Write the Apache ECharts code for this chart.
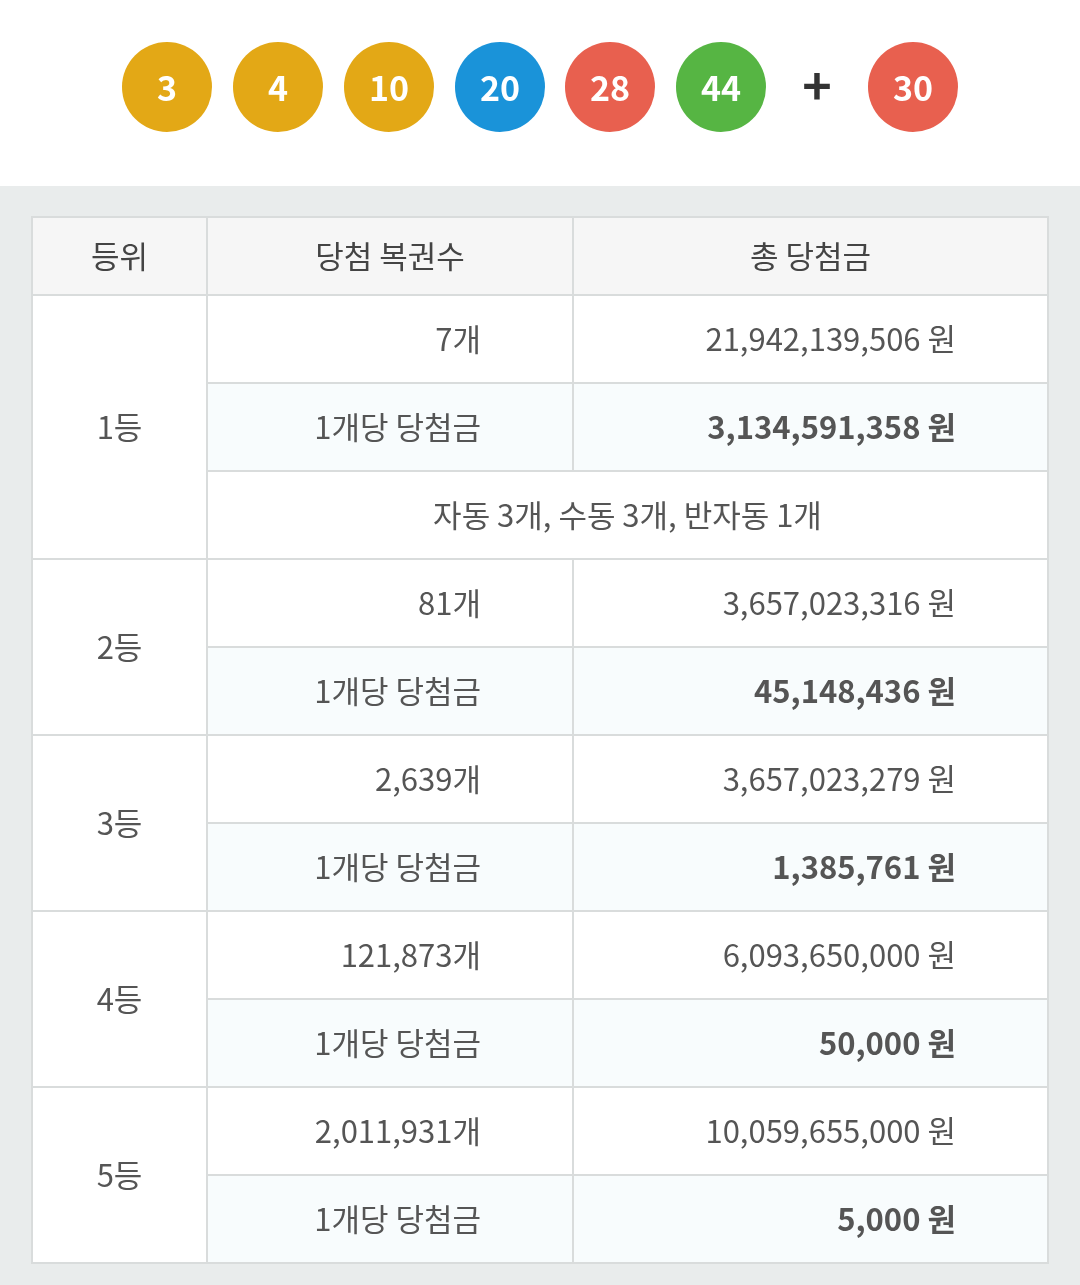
<!DOCTYPE html>
<html>
<head>
<meta charset="utf-8">
<script src="https://cdn.jsdelivr.net/npm/echarts@6/dist/echarts.min.js"></script>
<style>
  html, body { margin: 0; padding: 0; background: #fff; }
  #chart { width: 1080px; height: 1285px; }
</style>
</head>
<body>
<div id="chart"></div>
<script>
// winning numbers
const balls = [3, 4, 10, 20, 28, 44];
const bonus = 30;

// table data
const headers = ['등위', '당첨 복권수', '총 당첨금'];
const ranks = ['1등', '2등', '3등', '4등', '5등'];
const winners = ['7개', '81개', '2,639개', '121,873개', '2,011,931개'];
const totals = ['21,942,139,506 원', '3,657,023,316 원', '3,657,023,279 원', '6,093,650,000 원', '10,059,655,000 원'];
const perTicket = ['3,134,591,358 원', '45,148,436 원', '1,385,761 원', '50,000 원', '5,000 원'];
const firstNote = '자동 3개, 수동 3개, 반자동 1개';
const perLabel = '1개당 당첨금';

function ballColor(n) {
  if (n <= 10) return '#e3a816';
  if (n <= 20) return '#1a93d9';
  if (n <= 30) return '#e8604f';
  if (n <= 40) return '#888888';
  return '#56b543';
}

const FONT = '"Noto Sans CJK KR", "Noto Sans", sans-serif';
const chart = echarts.init(document.getElementById('chart'));
const g = [];

// top area
g.push({ type: 'rect', shape: { x: 0, y: 0, width: 1080, height: 186 }, style: { fill: '#fff' } });
g.push({ type: 'rect', shape: { x: 0, y: 186, width: 1080, height: 1100 }, style: { fill: '#e9ecec' } });

const ballX = [167, 278, 389, 500, 610, 721];
balls.forEach((n, i) => {
  g.push({ type: 'circle', shape: { cx: ballX[i], cy: 87, r: 45 }, style: { fill: ballColor(n) } });
  g.push({ type: 'text', x: ballX[i], y: 88, style: { text: String(n), fill: '#fff', font: 'bold 34px ' + FONT, align: 'center', verticalAlign: 'middle' } });
});
g.push({ type: 'text', x: 817, y: 86, style: { text: '+', fill: '#333', font: 'bold 50px ' + FONT, align: 'center', verticalAlign: 'middle' } });
g.push({ type: 'circle', shape: { cx: 913, cy: 87, r: 45 }, style: { fill: ballColor(bonus) } });
g.push({ type: 'text', x: 913, y: 88, style: { text: String(bonus), fill: '#fff', font: 'bold 34px ' + FONT, align: 'center', verticalAlign: 'middle' } });

// table
const X0 = 32, X1 = 207, X2 = 573, X3 = 1048;
const Y0 = 217, HH = 78, RH = 88;
const line = '#d9dcdc';
const txt = '#555';

function cell(x, y, w, h, fill) {
  g.push({ type: 'rect', shape: { x: x, y: y, width: w, height: h }, style: { fill: fill, stroke: line, lineWidth: 2 } });
}
function label(text, x, y, align, bold, color) {
  g.push({ type: 'text', x: x, y: y, style: { text: text, fill: color || txt, font: (bold ? 'bold ' : '') + '31px ' + FONT, align: align, verticalAlign: 'middle' } });
}

cell(X0, Y0, X1 - X0, HH, '#f6f6f6');
cell(X1, Y0, X2 - X1, HH, '#f6f6f6');
cell(X2, Y0, X3 - X2, HH, '#f6f6f6');
label(headers[0], (X0 + X1) / 2, Y0 + HH / 2, 'center', false, '#444');
label(headers[1], (X1 + X2) / 2, Y0 + HH / 2, 'center', false, '#444');
label(headers[2], (X2 + X3) / 2, Y0 + HH / 2, 'center', false, '#444');

let y = Y0 + HH;
ranks.forEach((r, i) => {
  const rows = i === 0 ? 3 : 2;
  cell(X0, y, X1 - X0, RH * rows, '#fff');
  label(r, (X0 + X1) / 2, y + RH * rows / 2, 'center');
  cell(X1, y, X2 - X1, RH, '#fff');
  cell(X2, y, X3 - X2, RH, '#fff');
  label(winners[i], 481, y + RH / 2, 'right');
  label(totals[i], 956, y + RH / 2, 'right');
  cell(X1, y + RH, X2 - X1, RH, '#f8fcfd');
  cell(X2, y + RH, X3 - X2, RH, '#f8fcfd');
  label(perLabel, 481, y + RH * 1.5, 'right');
  label(perTicket[i], 956, y + RH * 1.5, 'right', true);
  if (i === 0) {
    cell(X1, y + RH * 2, X3 - X1, RH, '#fff');
    label(firstNote, (X1 + X3) / 2, y + RH * 2.5, 'center');
  }
  y += RH * rows;
});

chart.setOption({ animation: false, graphic: { elements: g } });
</script>
</body>
</html>
